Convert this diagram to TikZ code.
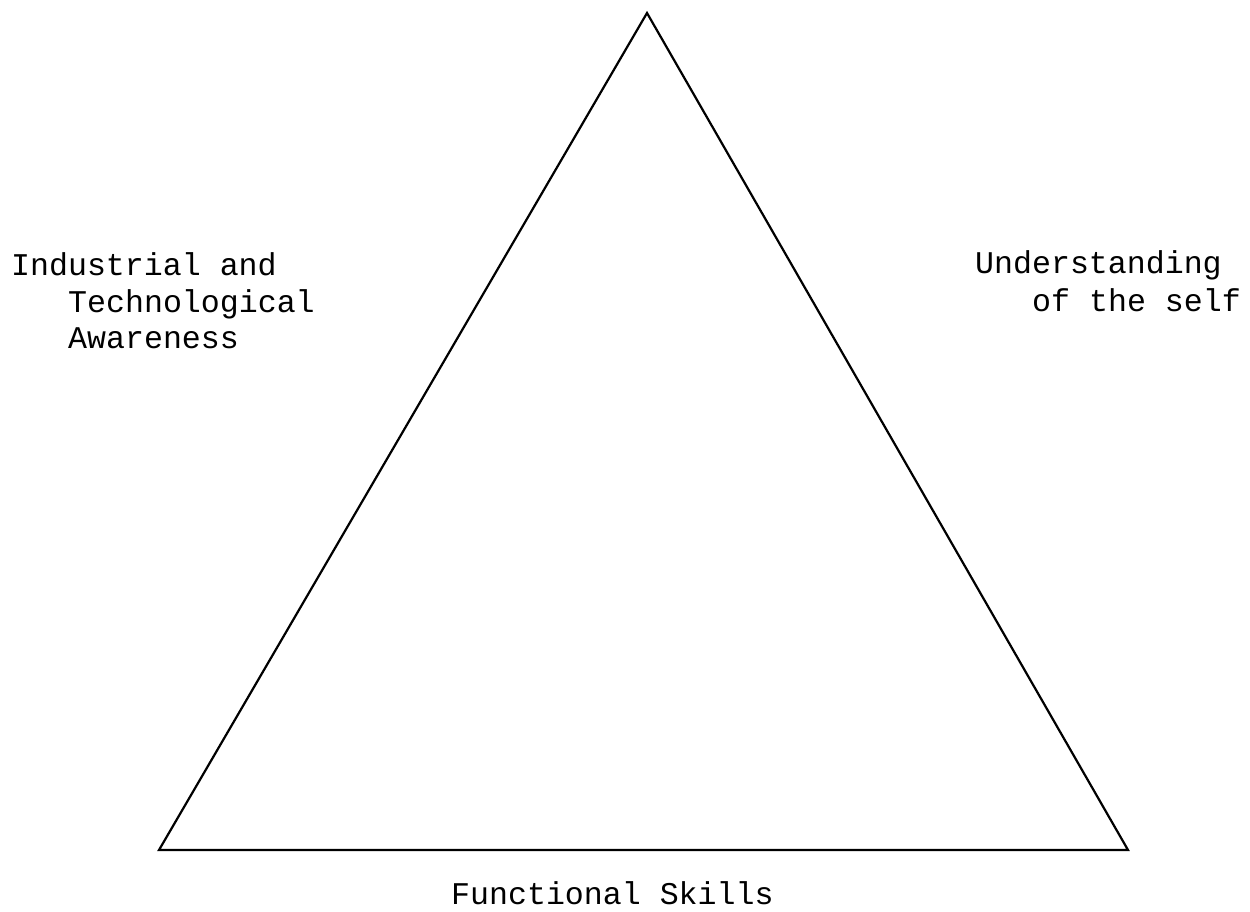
\documentclass[tikz,border=0pt]{standalone}
\usepackage{fontspec}
\newfontfamily\twfont{Liberation Mono}
\begin{document}
\begin{tikzpicture}[x=1pt,y=-1pt,
  lbl/.style={anchor=base west, inner sep=0pt, font=\twfont\fontsize{31.6}{37}\selectfont},
  edge/.style={line width=2.2pt, line join=miter, draw=black}]
\useasboundingbox[fill=white] (0,0) rectangle (1250,912);
\coordinate (top) at (647,13);
\coordinate (bl) at (159,850);
\coordinate (br) at (1128,850);
\draw[edge] (top) -- (bl) -- (br) -- cycle;
\node[lbl] (ind1) at (11,275) {Industrial and};
\node[lbl] (ind2) at (68,312) {Technological};
\node[lbl] (ind3) at (68,348) {Awareness};
\node[lbl] (und1) at (975,273) {Understanding};
\node[lbl] (und2) at (1032,311) {of the self};
\node[lbl] (fun) at (451,904) {Functional Skills};
\end{tikzpicture}
\end{document}
